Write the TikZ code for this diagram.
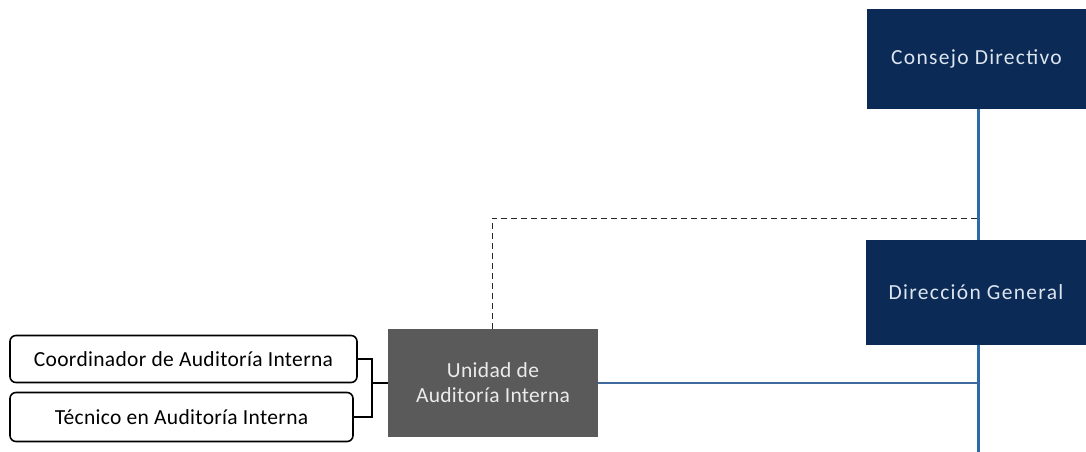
\documentclass[tikz,border=0pt]{standalone}
\usepackage{fontspec}
\setmainfont{Carlito}
\newfontfamily\widefont[LetterSpace=6]{Carlito}
\newfontfamily\midfont[LetterSpace=1.5]{Carlito}
\definecolor{navy}{HTML}{0B2A55}
\definecolor{grisbox}{HTML}{5A5A5A}
\definecolor{lineblue}{HTML}{2E6AA8}
\definecolor{thinblue}{HTML}{3F6A9C}
\definecolor{lighttxt}{HTML}{DCE5F0}
\begin{document}
\begin{tikzpicture}[x=1pt,y=-1pt,
  navybox/.style={fill=navy,draw=none,inner sep=0pt,text=lighttxt,font=\widefont\fontsize{21.5}{24}\selectfont},
  graybox/.style={fill=grisbox,draw=none,inner sep=0pt,text=white!92!black,align=center,font=\midfont\fontsize{21.5}{25}\selectfont},
  rolebox/.style={draw=black,line width=1.6pt,rounded corners=6pt,fill=white,inner sep=0pt,font=\midfont\fontsize{21.5}{24}\selectfont},
  trunk/.style={draw=lineblue,line width=3pt},
  thinline/.style={draw=thinblue,line width=1.2pt},
  dashline/.style={draw=black!85,line width=1pt,dash pattern=on 6pt off 4pt},
  bracket/.style={draw=black,line width=1.4pt}]
\useasboundingbox (0,0) rectangle (1086,452);
\fill[white] (0,0) rectangle (1086,452);
\node[navybox,minimum width=219pt,minimum height=100pt] (cd) at (976.5,59) {Consejo Directivo};
\node[navybox,minimum width=220pt,minimum height=105pt] (dg) at (976,292.5) {Dirección General};
\node[graybox,minimum width=210pt,minimum height=108pt] (uai) at (493,383) {Unidad de\\Auditoría Interna};
\node[rolebox,minimum width=347pt,minimum height=47pt] (coord) at (183.5,359) {Coordinador de Auditoría Interna};
\node[rolebox,minimum width=343pt,minimum height=49pt] (tec) at (181.5,417) {Técnico en Auditoría Interna};
\coordinate (bottom) at (978,452);
\coordinate (dashcorner) at (492,218);
\coordinate (dashend) at (978,218);
\coordinate (join) at (372,383);
% trunk
\draw[trunk] (cd.south -| bottom) -- (dg.north -| bottom);
\draw[trunk] (dg.south -| bottom) -- (bottom);
% solid link
\draw[thinline] (uai.east) -- (uai.east -| bottom);
% dashed link
\draw[dashline] (uai.north -| dashcorner) -- (dashcorner) -- (dashend);
% brackets
\draw[bracket] (coord.east) -| (join) -- (uai.west);
\draw[bracket] (tec.east) -| (join);
\end{tikzpicture}
\end{document}
